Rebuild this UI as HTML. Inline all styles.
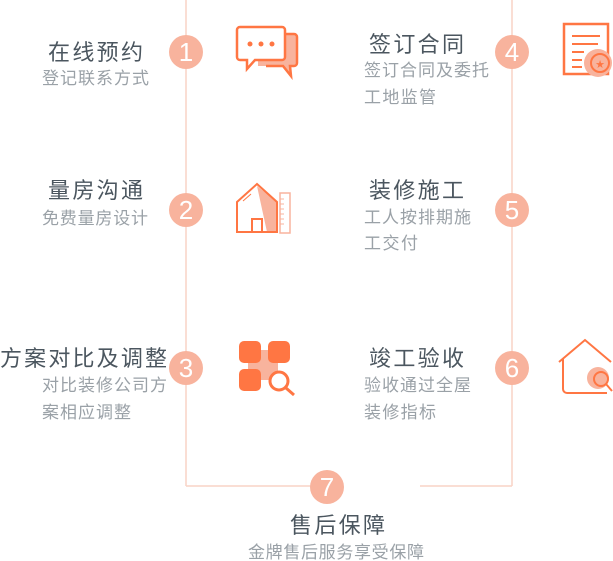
<!DOCTYPE html>
<html><head><meta charset="utf-8"><style>
html,body{margin:0;padding:0;background:#fff;width:613px;height:561px;overflow:hidden}
svg{display:block}
.t{font-family:"Liberation Sans","Noto Sans CJK SC",sans-serif;font-size:22px;fill:#4b565f}
.s{font-family:"Liberation Sans","Noto Sans CJK SC",sans-serif;font-size:17px;fill:#9aa1a7}
.n{font-family:"Liberation Sans",sans-serif;font-size:26px;fill:#fff;text-anchor:middle}
</style></head><body>
<svg width="613" height="561" viewBox="0 0 613 561" xmlns="http://www.w3.org/2000/svg">
<g stroke="#f9d3c6" stroke-width="1.5" fill="none">
<line x1="186" y1="0" x2="186" y2="486"/>
<line x1="512" y1="0" x2="512" y2="486"/>
<line x1="186" y1="486" x2="320" y2="486"/>
<line x1="420" y1="486" x2="512" y2="486"/>
</g>
<g fill="#f8b39d">
<circle cx="186" cy="52" r="17"/><circle cx="186" cy="210" r="17"/><circle cx="186" cy="368" r="17"/>
<circle cx="512" cy="52" r="17"/><circle cx="512" cy="210" r="17"/><circle cx="512" cy="368" r="17"/>
<circle cx="327" cy="487" r="17"/>
</g>
<text class="n" x="186" y="61">1</text><text class="n" x="186" y="219">2</text><text class="n" x="186" y="377">3</text>
<text class="n" x="512" y="61">4</text><text class="n" x="512" y="219">5</text><text class="n" x="512" y="377">6</text>
<text class="n" x="327" y="496">7</text>

<text class="t" x="48" y="60" textLength="95">在线预约</text>
<text class="s" x="42" y="84" textLength="107">登记联系方式</text>
<text class="t" x="48" y="198" textLength="95">量房沟通</text>
<text class="s" x="42" y="224" textLength="106">免费量房设计</text>
<text class="t" x="0" y="366" textLength="167">方案对比及调整</text>
<text class="s" x="42" y="391" textLength="125">对比装修公司方</text>
<text class="s" x="42" y="418" textLength="89">案相应调整</text>

<text class="t" x="369" y="52" textLength="95">签订合同</text>
<text class="s" x="364" y="76" textLength="125">签订合同及委托</text>
<text class="s" x="364" y="103" textLength="72">工地监管</text>
<text class="t" x="369" y="198" textLength="95">装修施工</text>
<text class="s" x="364" y="223" textLength="107">工人按排期施</text>
<text class="s" x="364" y="249" textLength="54">工交付</text>
<text class="t" x="369" y="366" textLength="95">竣工验收</text>
<text class="s" x="364" y="391" textLength="107">验收通过全屋</text>
<text class="s" x="364" y="418" textLength="72">装修指标</text>

<text class="t" x="290" y="533" textLength="95">售后保障</text>
<text class="s" x="248" y="558" textLength="176">金牌售后服务享受保障</text>

<g>
<path d="M258 34 h36 a3 3 0 0 1 3 3 v26 a3 3 0 0 1 -3 3 h-4 l1 10 l-8 -10 h-25 z" fill="#f8b39d"/>
<path d="M240 27 h42 a3 3 0 0 1 3 3 v27 a3 3 0 0 1 -3 3 h-27 l-8 9 v-9 h-7 a3 3 0 0 1 -3 -3 v-27 a3 3 0 0 1 3 -3 z" fill="#fff" stroke="#ff7643" stroke-width="2.5"/>
<path d="M285 34 h9 a3 3 0 0 1 3 3 v26 a3 3 0 0 1 -3 3 h-4 l1 10 l-8 -10 h-17" fill="none" stroke="#ff7643" stroke-width="2.5"/>
<circle cx="250" cy="44" r="2.5" fill="#ff7643"/><circle cx="261" cy="44" r="2.5" fill="#ff7643"/><circle cx="272" cy="44" r="2.5" fill="#ff7643"/>
</g>
<g>
<path d="M257 186 l20 16 v30 h-10 z" fill="#f8b39d"/>
<path d="M237 232 v-30 l20 -18 l20 18 v30 z M252 232 v-13 h10 v13" fill="none" stroke="#ff7643" stroke-width="2"/>
<rect x="280" y="193" width="10" height="40" fill="none" stroke="#f8b39d" stroke-width="1.5"/>
<path d="M280 199h4M280 204h4M280 209h4M280 214h4M280 219h4M280 224h4" stroke="#f8b39d" stroke-width="1"/>
<path d="M243 201 l8 -7" stroke="#ff7643" stroke-width="1"/>
</g>
<g>
<rect x="248" y="350" width="30" height="30" fill="#f8b39d"/>
<rect x="239" y="341" width="22" height="22" rx="5" fill="#ff7643"/>
<rect x="268" y="341" width="22" height="22" rx="5" fill="#ff7643"/>
<rect x="239" y="369" width="22" height="22" rx="5" fill="#ff7643"/>
<circle cx="279" cy="381" r="9" fill="#fff" stroke="#ff7643" stroke-width="3"/>
<line x1="286" y1="388" x2="294" y2="395" stroke="#ff7643" stroke-width="3"/>
</g>
<g>
<rect x="564" y="24" width="44" height="50" fill="none" stroke="#ff7643" stroke-width="2.5"/>
<path d="M572 36h28M572 44h26M572 52h12M572 60h10M572 67h10" stroke="#ff7643" stroke-width="2"/>
<circle cx="598" cy="63" r="14" fill="#f8b39d"/>
<circle cx="600" cy="63" r="9" fill="none" stroke="#ff7643" stroke-width="2"/>
<text x="600" y="68" font-size="11" fill="#ff7643" text-anchor="middle" font-family="DejaVu Sans">★</text>
</g>
<g>
<path d="M559 362 l26 -22 l26 22 M563 359 v30 a4 4 0 0 0 4 4 h40" fill="none" stroke="#ff7643" stroke-width="2"/>
<circle cx="598" cy="378" r="11" fill="#f8b39d"/>
<circle cx="601" cy="379" r="7" fill="none" stroke="#ff7643" stroke-width="2"/>
<line x1="606" y1="384" x2="612" y2="391" stroke="#ff7643" stroke-width="2"/>
</g>
</svg>
</body></html>
